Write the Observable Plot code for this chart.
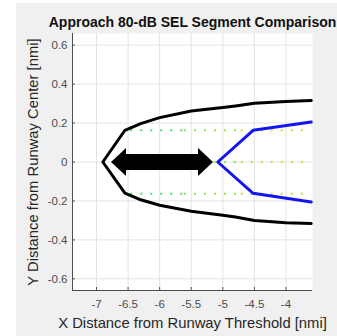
<!DOCTYPE html>
<html>
<head>
<meta charset="utf-8">
<script src="https://cdn.jsdelivr.net/npm/d3@7"></script>
<script src="https://cdn.jsdelivr.net/npm/@observablehq/plot@0.6"></script>
<style>
  html, body { margin: 0; padding: 0; background: #ffffff; }
  #wrap { position: absolute; left: 16px; top: 3px; width: 321px; height: 333px; background: #f0f0f0; overflow: hidden; }
  #wrap svg { background: #f0f0f0 !important; }
</style>
</head>
<body>
<div id="wrap"></div>
<script>
// ---- data ----
const titleText = "Approach 80-dB SEL Segment Comparison";
const xLabel = "X Distance from Runway Threshold [nmi]";
const yLabel = "Y Distance from Runway Center [nmi]";
const xTicks = [-7, -6.5, -6, -5.5, -5, -4.5, -4];
const yTicks = [-0.6, -0.4, -0.2, 0, 0.2, 0.4, 0.6];
const xDomain = [-7.38, -3.58];
const yDomain = [-0.66, 0.66];

// black 80-dB contour (upper and lower branches share x)
const contourX     = [-6.9, -6.55, -6.3,  -6.0,   -5.5,   -5.0,   -4.8,   -4.5,  -4.0,   -3.6];
const contourUpper = [0,    0.163, 0.197, 0.228,  0.262,  0.280,  0.288,  0.302, 0.311,  0.316];
const contourLower = [0,   -0.160, -0.194, -0.222, -0.253, -0.273, -0.282, -0.300, -0.312, -0.316];

// blue segment contour
const blueX = [-3.6, -4.52, -5.08, -4.52, -3.6];
const blueY = [0.205, 0.163, 0, -0.161, -0.205];

// double arrow (tips)
const arrowX = [-6.77, -5.155];
const arrowY = 0;

// dotted track lines
const dotLevels = [0.163, 0, -0.163];
const dotStarts = [-6.45, -6.9, -6.45];
const dotBreaks = [-5.6, -4.7];
const dotEnd = -3.65;
const dotColors = ["#5ee68e", "#98e85e", "#d2e44c"];

// ---- tables ----
const contour = [
  ...contourX.map((x, i) => ({x, y: contourUpper[i]})).reverse(),
  ...contourX.slice(1).map((x, i) => ({x, y: contourLower[i + 1]}))
];
const blue = blueX.map((x, i) => ({x, y: blueY[i]}));
const dotSegs = [];
dotLevels.forEach((lv, i) => {
  const pts = [dotStarts[i], ...dotBreaks, dotEnd];
  for (let k = 0; k < pts.length - 1; k++) {
    dotSegs.push({x1: pts[k], x2: pts[k + 1], y: lv, c: dotColors[k]});
  }
});

const headRight = {draw(ctx) { ctx.moveTo(0, 0); ctx.lineTo(-15, -14); ctx.lineTo(-15, 14); ctx.closePath(); }};
const headLeft  = {draw(ctx) { ctx.moveTo(0, 0); ctx.lineTo(15, -14); ctx.lineTo(15, 14); ctx.closePath(); }};

const plot = Plot.plot({
  width: 321,
  height: 333,
  marginLeft: 56,
  marginRight: 25,
  marginTop: 30,
  marginBottom: 46,
  style: {background: "#f0f0f0", fontFamily: "'Liberation Sans', Arial, sans-serif", fontSize: "11.5px", color: "#4d4d4d"},
  x: {domain: xDomain},
  y: {domain: yDomain},
  marks: [
    Plot.frame({fill: "white", stroke: "none"}),
    Plot.gridX(xTicks, {stroke: "#e3e3e3", strokeOpacity: 1}),
    Plot.gridY(yTicks, {stroke: "#e3e3e3", strokeOpacity: 1}),
    Plot.axisX(xTicks, {tickSize: -3, tickPadding: 12, tickFormat: d => String(d), label: null, stroke: "#555", fill: "#4d4d4d"}),
    Plot.axisY(yTicks, {tickSize: -3, tickPadding: 8, tickFormat: d => String(d), label: null, stroke: "#555", fill: "#4d4d4d"}),
    Plot.ruleX([xDomain[0]], {stroke: "#4d4d4d", strokeWidth: 1}),
    Plot.ruleY([yDomain[0]], {stroke: "#4d4d4d", strokeWidth: 1}),
    Plot.link(dotSegs, {x1: "x1", x2: "x2", y1: "y", y2: "y", stroke: "c", strokeWidth: 2.4, strokeDasharray: "0,10", strokeLinecap: "round"}),
    Plot.line(contour, {x: "x", y: "y", stroke: "#000", strokeWidth: 3, strokeLinejoin: "round"}),
    Plot.line(blue, {x: "x", y: "y", stroke: "#1414f0", strokeWidth: 3, strokeLinejoin: "round"}),
    Plot.ruleY([arrowY], {x1: arrowX[0], x2: arrowX[1], stroke: "#000", strokeWidth: 16, insetLeft: 14, insetRight: 14}),
    Plot.dot([arrowX[1]], {x: d => d, y: () => arrowY, symbol: headRight, fill: "#000", stroke: "none"}),
    Plot.dot([arrowX[0]], {x: d => d, y: () => arrowY, symbol: headLeft, fill: "#000", stroke: "none"}),
    Plot.text([titleText], {frameAnchor: "top", dy: -16, fontWeight: "bold", fontSize: 14, fill: "#111"}),
    Plot.text([xLabel], {frameAnchor: "bottom", dy: 37, fontSize: 14.8, fill: "#262626"}),
    Plot.text([yLabel], {frameAnchor: "left", dx: -39, rotate: -90, textAnchor: "middle", fontSize: 14.8, fill: "#262626"})
  ]
});
document.getElementById("wrap").appendChild(plot);
</script>
</body>
</html>
